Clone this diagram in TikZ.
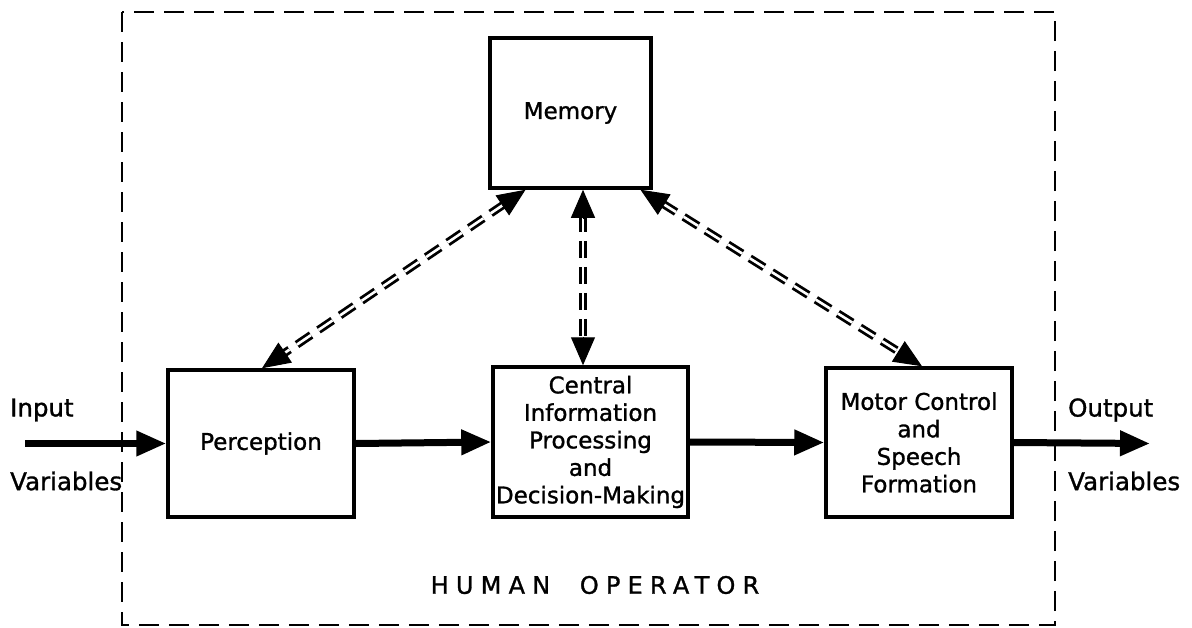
\documentclass[tikz,border=0pt]{standalone}
\usepackage{fontspec}
\setmainfont[FakeBold=1.2]{DejaVu Sans}
\newfontfamily\spacedfont[LetterSpace=30,FakeBold=1.2]{DejaVu Sans}
\usetikzlibrary{arrows.meta,calc}
\begin{document}
\begin{tikzpicture}[x=1pt,y=-1pt,
  blk/.style={draw,line width=3.5pt,align=center,inner sep=0pt,
    font=\fontsize{23}{27.5}\selectfont},
  flow/.style={line width=7pt,-{Triangle[length=30pt,width=24pt]}},
  dbl/.style={draw,line width=2.8pt,double,double distance=2.6pt,
    dash pattern=on 17pt off 9pt},
  tip/.style={-{Triangle[length=28pt,width=24pt]},line width=1pt},
  lbl/.style={anchor=west,inner sep=0pt,font=\fontsize{24.5}{28}\selectfont}]
\useasboundingbox (0,0) rectangle (1192,627);
% outer dashed boundary
\draw[line width=2.2pt,dash pattern=on 20pt off 10pt] (122,12) rectangle (1055,625);
% blocks
\node[blk,minimum width=161pt,minimum height=150pt] (mem) at (570.5,113) {Memory};
\node[blk,minimum width=186pt,minimum height=147pt] (perc) at (261,443.5) {Perception};
\node[blk,minimum width=195pt,minimum height=150pt] (cen) at (590.5,442) {Central\\Information\\Processing\\and\\Decision-Making};
\node[blk,minimum width=186pt,minimum height=149pt] (mot) at (919,442.5) {Motor Control\\and\\Speech\\Formation};
% inputs and outputs
\coordinate (in) at (25,443.5);
\coordinate (out) at (1150,443.5);
\node[lbl] (inl) at (10,410) {Input};
\node[lbl] (inv) at (10,481) {Variables};
\node[lbl] (outl) at (1068,410) {Output};
\node[lbl] (outv) at (1068,481) {Variables};
\node[inner sep=0pt,font=\fontsize{24}{28}\spacedfont] (hum) at (595,585) {HUMAN\ \ OPERATOR};
% main flow
\draw[flow] (in) -- (perc.west);
\draw[flow] (perc.east) -- (cen.west);
\draw[flow] (cen.east) -- (mot.west);
\draw[flow] (mot.east) -- (out);
% memory links
\coordinate (m1) at ($(mem.south)+(-45,0)$);
\coordinate (p1) at ($(perc.north)+(1,0)$);
\coordinate (m2) at ($(mem.south)+(12.5,0)$);
\coordinate (c2) at ($(cen.north)+(-7.5,0)$);
\coordinate (m3) at ($(mem.south)+(70,0)$);
\coordinate (t3) at ($(mot.north)+(3,0)$);
\foreach \a/\b in {m1/p1,m2/c2,m3/t3}{
  \draw[dbl,shorten <=25pt,shorten >=25pt] (\a) -- (\b);
  \draw[tip] ($(\a)!28pt!(\b)$) -- (\a);
  \draw[tip] ($(\b)!28pt!(\a)$) -- (\b);
}
\end{tikzpicture}
\end{document}
